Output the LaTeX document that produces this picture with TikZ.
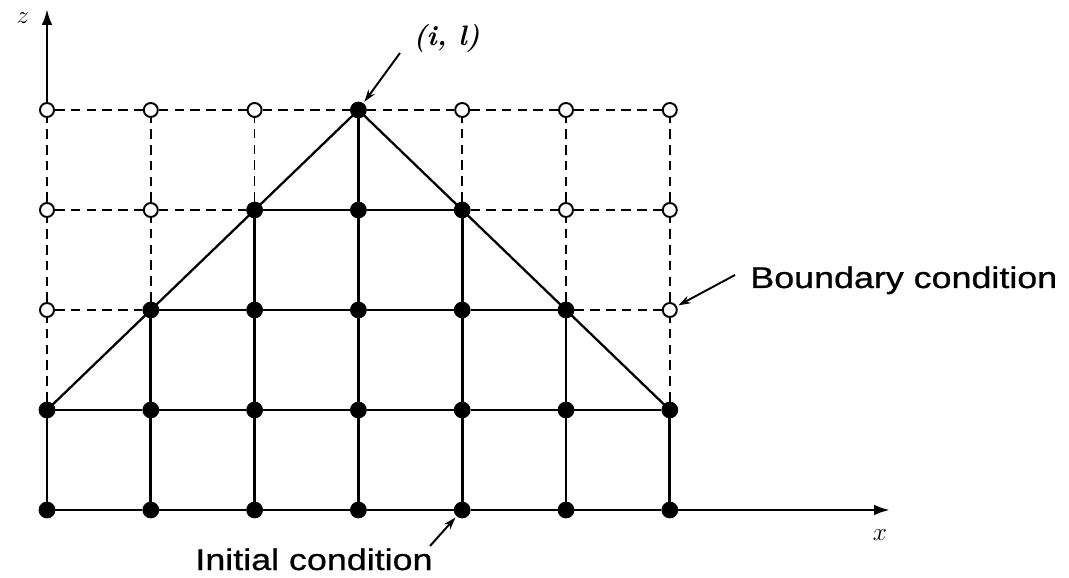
\documentclass[tikz,border=0pt]{standalone}
\usepackage{amsmath}
\usepackage{fontspec}
\usepackage{tikz}
\usetikzlibrary{arrows.meta, positioning, calc}
\newfontfamily\notefont[FakeStretch=1.2, FakeBold=0.8]{Liberation Sans}

\begin{document}
\begin{tikzpicture}[
			filled/.style={circle, draw=black, fill=black, inner sep=0pt, minimum size=0.32cm},
			hollow/.style={circle, draw=black, fill=white, line width=1.1pt, inner sep=0pt, minimum size=0.28cm},
			solidline/.style={line width=1.5pt},
			dashline/.style={line width=1pt, dash pattern=on 5.5pt off 3.5pt},
			axis/.style={line width=1.5pt, -{Latex[length=9pt, width=6pt]}},
			pointer/.style={line width=1.1pt, -{Stealth[length=7pt, width=4.5pt]}, shorten >=1pt},
			note/.style={font=\notefont\fontsize{17}{20}\selectfont, inner sep=0pt}
		]
		\useasboundingbox (-0.94, -1.34) rectangle (20.44, 10.2);

		% grid points: filled inside the domain of dependence, hollow outside
		\foreach \i in {0,...,6} {
				\foreach \j in {0,...,4} {
						\pgfmathtruncatemacro\inside{abs(\i-3) <= 4-\j ? 1 : 0}
						\ifnum\inside=1 \def\kind{filled}\else\def\kind{hollow}\fi
						\node[\kind] (n-\i-\j) at (2.076*\i, 2*\j) {};
					}
			}

		% horizontal links
		\foreach \j in {0,...,4} {
				\foreach \i [evaluate=\i as \k using int(\i+1)] in {0,...,5} {
						\pgfmathtruncatemacro\both{(abs(\i-3) <= 4-\j)*(abs(\k-3) <= 4-\j)}
						\ifnum\both=1 \def\kind{solidline}\else\def\kind{dashline}\fi
						\draw[\kind] (n-\i-\j) -- (n-\k-\j);
					}
			}

		% vertical links
		\foreach \i in {0,...,6} {
				\foreach \j [evaluate=\j as \k using int(\j+1)] in {0,...,3} {
						\pgfmathtruncatemacro\both{(abs(\i-3) <= 4-\j)*(abs(\i-3) <= 4-\k)}
						\ifnum\both=1 \def\kind{solidline}\else\def\kind{dashline}\fi
						\draw[\kind] (n-\i-\j) -- (n-\i-\k);
					}
			}

		% characteristics
		\draw[line width=1.3pt] (n-0-1.center) -- (n-3-4.center) -- (n-6-1.center);

		% axes
		\coordinate (ztip) at (0, 10.02);
		\coordinate (xtip) at (16.86, 0);
		\draw[axis] (n-0-4) -- (ztip);
		\draw[axis] (n-6-0) -- (xtip);
		\node (zlabel) at (-0.48, 9.84) {\fontsize{14}{16}\selectfont $z$};
		\node (xlabel) at (16.66, -0.5) {\fontsize{14}{16}\selectfont $x$};

		% labels
		\node[anchor=base west, inner sep=0pt] (top) at (7.32, 9.28) {\fontsize{16}{18}\selectfont\bfseries\itshape (i, l)};
		\coordinate (top-tail) at (7.06, 9.14);
		\draw[pointer] (top-tail) -- (n-3-4);

		\node[note, anchor=base west] (bnd) at (14.06, 4.44) {Boundary condition};
		\coordinate (bnd-tail) at (13.76, 4.7);
		\draw[pointer] (bnd-tail) -- (n-6-2);

		\node[note, anchor=base] (init) at (5.34, -1.2) {Initial condition};
		\coordinate (init-tail) at (7.66, -0.72);
		\draw[pointer] (init-tail) -- (n-4-0);
	\end{tikzpicture}
\end{document}
